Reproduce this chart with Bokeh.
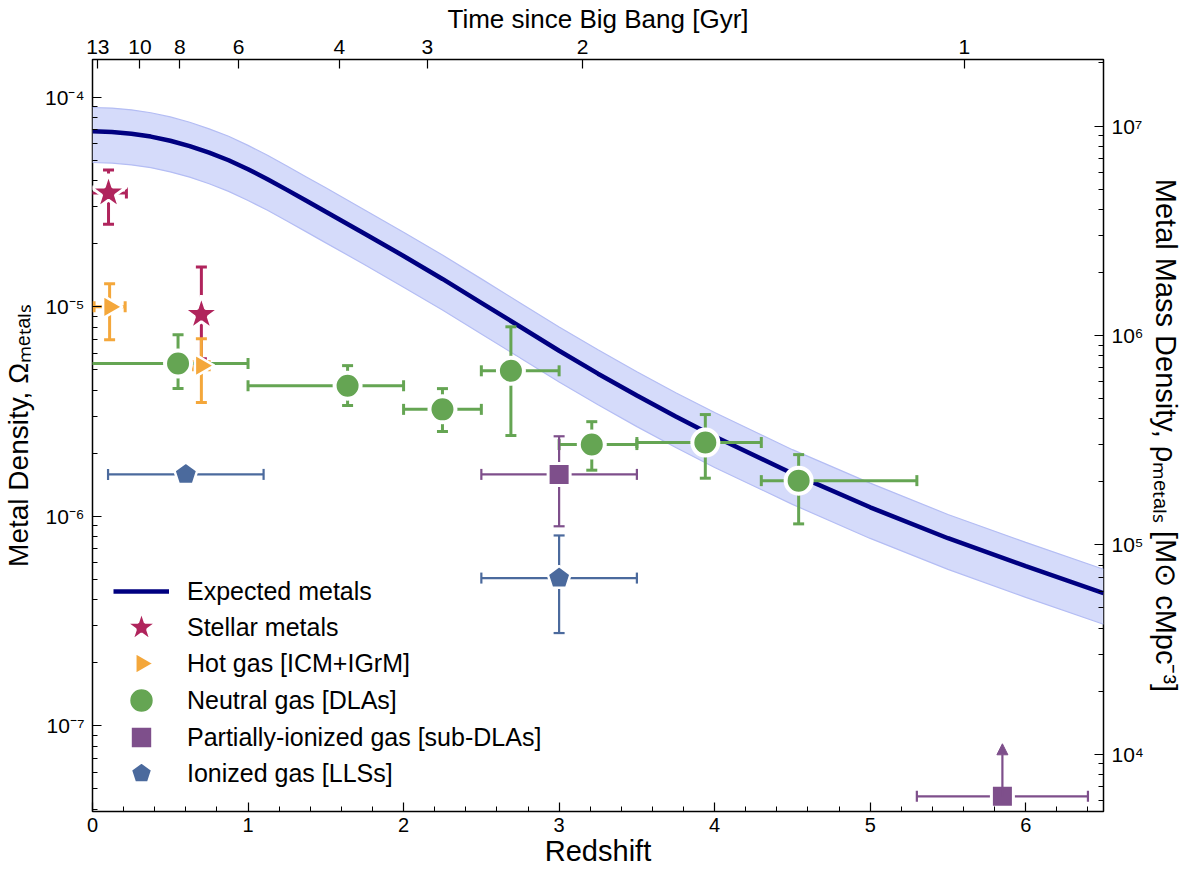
import numpy as np
from bokeh.plotting import figure
from bokeh.models import (Range1d, LogScale, LogAxis, LinearAxis, FixedTicker,
                          SingleIntervalTicker, Legend, LegendItem, Arrow, NormalHead)
from bokeh.embed import file_html
from bokeh.resources import INLINE

# ---------------- data ----------------
z_model = [0.0, 0.125, 0.25, 0.375, 0.5, 0.625, 0.75, 0.875, 1.0, 1.125, 1.25, 1.375,
           1.5, 1.75, 2.0, 2.25, 2.5, 2.75, 3.0, 3.25, 3.5, 3.75, 4.0, 4.5, 5.0, 5.5,
           6.0, 6.5]
omega_model = [6.887e-5, 6.842e-5, 6.709e-5, 6.500e-5, 6.207e-5, 5.855e-5, 5.446e-5,
               5.012e-5, 4.541e-5, 4.069e-5, 3.619e-5, 3.208e-5, 2.843e-5, 2.234e-5,
               1.749e-5, 1.359e-5, 1.045e-5, 8.034e-6, 6.172e-6, 4.797e-6, 3.770e-6,
               2.995e-6, 2.404e-6, 1.602e-6, 1.104e-6, 7.856e-7, 5.778e-7, 4.298e-7]
omega_model_hi = [8.95e-5, 8.89e-5, 8.72e-5, 8.45e-5, 8.07e-5, 7.61e-5, 7.08e-5, 6.52e-5,
                  5.90e-5, 5.29e-5, 4.70e-5, 4.17e-5, 3.70e-5, 2.90e-5, 2.27e-5, 1.77e-5,
                  1.36e-5, 1.044e-5, 8.02e-6, 6.24e-6, 4.90e-6, 3.89e-6, 3.13e-6, 2.08e-6,
                  1.44e-6, 1.02e-6, 7.51e-7, 5.59e-7]
omega_model_lo = [4.89e-5, 4.86e-5, 4.76e-5, 4.62e-5, 4.41e-5, 4.16e-5, 3.87e-5, 3.56e-5,
                  3.22e-5, 2.89e-5, 2.57e-5, 2.28e-5, 2.02e-5, 1.59e-5, 1.24e-5, 9.65e-6,
                  7.42e-6, 5.70e-6, 4.38e-6, 3.41e-6, 2.68e-6, 2.13e-6, 1.71e-6, 1.14e-6,
                  7.84e-7, 5.58e-7, 4.10e-7, 3.05e-7]

star_z = [0.103, 0.70]
star_om = [3.5e-5, 9.2e-6]
star_om_lo = [2.48e-5, 5.65e-6]
star_om_hi = [4.5e-5, 1.55e-5]
star_z_lo = [-0.012, 0.70]
star_z_hi = [0.218, 0.70]

hot_z = [0.11, 0.70]
hot_om = [1.0e-5, 5.24e-6]
hot_om_lo = [6.97e-6, 3.49e-6]
hot_om_hi = [1.29e-5, 7.05e-6]
hot_z_lo = [0.01, 0.65]
hot_z_hi = [0.21, 0.75]

dla_z = [0.55, 1.64, 2.25, 2.69, 3.21, 3.94, 4.54]
dla_om = [5.36e-6, 4.2e-6, 3.24e-6, 4.95e-6, 2.2e-6, 2.25e-6, 1.48e-6]
dla_om_lo = [4.07e-6, 3.38e-6, 2.54e-6, 2.43e-6, 1.66e-6, 1.52e-6, 9.2e-7]
dla_om_hi = [7.36e-6, 5.24e-6, 4.07e-6, 8.03e-6, 2.83e-6, 3.06e-6, 1.97e-6]
dla_z_lo = [-0.05, 1.0, 2.0, 2.5, 3.0, 3.5, 4.3]
dla_z_hi = [1.0, 2.0, 2.5, 3.0, 3.5, 4.3, 5.3]

sub_z = [3.0, 5.85]
sub_om = [1.585e-6, 4.6e-8]
sub_om_lo = [8.96e-7, 4.6e-8]
sub_om_hi = [2.41e-6, 4.6e-8]
sub_z_lo = [2.5, 5.3]
sub_z_hi = [3.5, 6.4]
sub_limit_z = [5.85]
sub_limit_from = [4.6e-8]
sub_limit_to = [8.2e-8]

lls_z = [0.6, 3.0]
lls_om = [1.585e-6, 5.07e-7]
lls_om_lo = [1.585e-6, 2.77e-7]
lls_om_hi = [1.585e-6, 8.1e-7]
lls_z_lo = [0.1, 2.5]
lls_z_hi = [1.1, 3.5]

age_ticks_gyr = [13, 10, 8, 6, 4, 3, 2, 1]
omega_major = [1e-7, 1e-6, 1e-5, 1e-4]
omega_labels = ["10⁻⁷", "10⁻⁶", "10⁻⁵", "10⁻⁴"]
rho_major = [1e4, 1e5, 1e6, 1e7]
rho_labels = ["10⁴", "10⁵", "10⁶", "10⁷"]
rho_per_omega = 1.37e11  # M_sun cMpc^-3 per unit Omega

legend_labels = ["Expected metals", "Stellar metals", "Hot gas [ICM+IGrM]",
                 "Neutral gas [DLAs]", "Partially-ionized gas [sub-DLAs]",
                 "Ionized gas [LLSs]"]

# ---------------- styling ----------------
FONT = "Liberation Sans"
C_STAR = "#b0245c"
C_HOT = "#f4a73b"
C_DLA = "#65a553"
C_SUB = "#7e4f8b"
C_LLS = "#4b6a9d"
C_LINE = "#000080"

YLO, YHI = 3.895e-8, 1.517e-4

p = figure(width=1188, height=873, x_range=Range1d(0, 6.5), y_range=Range1d(YLO, YHI),
           y_axis_type="log", output_backend="svg", toolbar_location=None,
           min_border_left=91, min_border_right=85, min_border_top=57, min_border_bottom=62)
p.grid.visible = False
p.outline_line_color = "black"
p.outline_line_width = 1.5
p.background_fill_color = "white"
p.border_fill_color = "white"


def style_axis(ax, size="21px"):
    ax.axis_line_color = None
    ax.major_tick_in = 9
    ax.major_tick_out = 0
    ax.minor_tick_in = 5
    ax.minor_tick_out = 0
    ax.major_tick_line_color = "black"
    ax.minor_tick_line_color = "black"
    ax.major_tick_line_width = 1.2
    ax.minor_tick_line_width = 1.0
    ax.major_label_text_font = FONT
    ax.major_label_text_font_size = size
    ax.major_label_text_color = "black"
    ax.axis_label_text_font = FONT
    ax.axis_label_text_font_style = "normal"
    ax.axis_label_text_color = "black"
    ax.axis_label_text_font_size = "28px"


# bottom axis
xax = p.xaxis[0]
xax.ticker = SingleIntervalTicker(interval=1, num_minor_ticks=5)
style_axis(xax, "20px")
xax.axis_label = "Redshift"
xax.axis_label_text_font_size = "29px"
xax.major_label_standoff = 6
xax.axis_label_standoff = 0

# left axis
yax = p.yaxis[0]
minor_om = [k * 10.0 ** e for e in range(-8, -3) for k in range(2, 10)
            if YLO <= k * 10.0 ** e <= YHI]
yax.ticker = FixedTicker(ticks=omega_major, minor_ticks=minor_om)
yax.major_label_overrides = dict(zip(omega_major, omega_labels))
style_axis(yax)
yax.major_label_standoff = 8
yax.axis_label = "Metal Density, Ωₘₑₜₐₗₛ"
yax.axis_label_standoff = 8

# right axis (rho)
p.extra_y_ranges = {"rho": Range1d(YLO * rho_per_omega, YHI * rho_per_omega)}
p.extra_y_scales = {"rho": LogScale()}
minor_rho = [k * 10.0 ** e for e in range(3, 8) for k in range(2, 10)
             if YLO * rho_per_omega <= k * 10.0 ** e <= YHI * rho_per_omega]
rax = LogAxis(y_range_name="rho", ticker=FixedTicker(ticks=rho_major, minor_ticks=minor_rho))
rax.major_label_overrides = dict(zip(rho_major, rho_labels))
style_axis(rax)
rax.major_label_standoff = 8
rax.axis_label = "Metal Mass Density, ρₘₑₜₐₗₛ [M⊙ cMpc⁻³]"
rax.axis_label_text_font_size = "29px"
rax.axis_label_standoff = 3
p.add_layout(rax, "right")

# top axis (time since big bang)
H0, Om, OL = 70.0, 0.3, 0.7
tH = 977.8 / H0
age_z = [round(float((np.sqrt(OL / Om) / np.sinh(1.5 * np.sqrt(OL) * t / tH)) ** (2.0 / 3.0) - 1.0), 4)
         for t in age_ticks_gyr]
tax = LinearAxis(ticker=FixedTicker(ticks=age_z, minor_ticks=[]))
tax.major_label_overrides = {zz: str(t) for zz, t in zip(age_z, age_ticks_gyr)}
style_axis(tax)
tax.minor_tick_line_color = None
tax.axis_label = "Time since Big Bang [Gyr]"
tax.axis_label_text_font_size = "26px"
tax.major_label_standoff = 6
tax.axis_label_standoff = 3
p.add_layout(tax, "above")

# ---------------- model band + line ----------------
p.varea(x=z_model, y1=omega_model_lo, y2=omega_model_hi, fill_color="#d5dbfa", fill_alpha=1.0)
p.line(z_model, omega_model_hi, line_color="#b4bdf4", line_width=1.2)
p.line(z_model, omega_model_lo, line_color="#b4bdf4", line_width=1.2)
r_line = p.line(z_model, omega_model, line_color=C_LINE, line_width=4.5)


def errbars(z, om, zlo, zhi, olo, ohi, color, lw, cap):
    hx = [(a, b, c) for a, b, c in zip(zlo, zhi, om) if b > a]
    if hx:
        p.segment(x0=[h[0] for h in hx], x1=[h[1] for h in hx], y0=[h[2] for h in hx],
                  y1=[h[2] for h in hx], line_color=color, line_width=lw)
        p.scatter(x=[h[0] for h in hx] + [h[1] for h in hx], y=[h[2] for h in hx] * 2,
                  marker="dash", angle=np.pi / 2, size=cap, line_color=color, line_width=lw)
    vy = [(a, b, c) for a, b, c in zip(olo, ohi, z) if b > a]
    if vy:
        p.segment(x0=[v[2] for v in vy], x1=[v[2] for v in vy], y0=[v[0] for v in vy],
                  y1=[v[1] for v in vy], line_color=color, line_width=lw)
        p.scatter(x=[v[2] for v in vy] * 2, y=[v[0] for v in vy] + [v[1] for v in vy],
                  marker="dash", size=cap, line_color=color, line_width=lw)


errbars(star_z, star_om, star_z_lo, star_z_hi, star_om_lo, star_om_hi, C_STAR, 3, 11)
errbars(hot_z, hot_om, hot_z_lo, hot_z_hi, hot_om_lo, hot_om_hi, C_HOT, 3, 11)
errbars(dla_z, dla_om, dla_z_lo, dla_z_hi, dla_om_lo, dla_om_hi, C_DLA, 3, 11)
errbars(sub_z, sub_om, sub_z_lo, sub_z_hi, sub_om_lo, sub_om_hi, C_SUB, 2.2, 11)
errbars(lls_z, lls_om, lls_z_lo, lls_z_hi, lls_om_lo, lls_om_hi, C_LLS, 2.2, 11)

p.add_layout(Arrow(end=NormalHead(size=11, fill_color=C_SUB, line_color=C_SUB),
                   x_start=sub_limit_z[0], y_start=sub_limit_from[0],
                   x_end=sub_limit_z[0], y_end=sub_limit_to[0],
                   line_color=C_SUB, line_width=2.2))

r_star = p.scatter(star_z, star_om, marker="star", size=38, fill_color=C_STAR,
                   line_color="white", line_width=3)
r_dla = p.scatter(dla_z, dla_om, size=26, fill_color=C_DLA, line_color="white", line_width=4)
r_sub = p.scatter(sub_z, sub_om, marker="square", size=22, fill_color=C_SUB,
                  line_color="white", line_width=3)
HAS_NGON = hasattr(p, "ngon")
if HAS_NGON:
    r_hot = p.ngon(x=hot_z, y=hot_om, radius=13, radius_units="screen", n=3,
                   angle=-np.pi / 2, fill_color=C_HOT, line_color="white", line_width=2.5)
    r_lls = p.ngon(x=lls_z, y=lls_om, radius=12, radius_units="screen", n=5,
                   angle=0, fill_color=C_LLS, line_color="white", line_width=2.5)
else:
    r_hot = p.scatter(hot_z, hot_om, marker="triangle", angle=-np.pi / 2, size=25,
                      fill_color=C_HOT, line_color="white", line_width=3)
    r_lls = p.scatter(lls_z, lls_om, marker="hex", size=22, fill_color=C_LLS,
                      line_color="white", line_width=3)

# ---------------- legend: one box per row so each glyph gets its own size ----------------
FRAME_H = 873 - 57 - 62
row_centers = [534, 570, 606, 643, 680, 716]   # px below frame top
glyph_boxes = [(56, 30), (84, 84), (62, 62), (66, 66), (56, 56), (56, 56)]
renderers = [r_line, r_star, r_hot, r_dla, r_sub, r_lls]
GLYPH_CX = 49      # glyph centre, px right of the frame's left edge
LABEL_X = 95       # label start, px right of the frame's left edge
for lbl, rend, (gw, gh), cy in zip(legend_labels, renderers, glyph_boxes, row_centers):
    lg = Legend(items=[LegendItem(label=lbl, renderers=[rend])],
                location=(GLYPH_CX - gw // 2, FRAME_H - cy - gh // 2))
    lg.border_line_color = None
    lg.background_fill_alpha = 0
    lg.label_text_font = FONT
    lg.label_text_font_size = "25px"
    lg.label_text_color = "black"
    lg.glyph_width = gw
    lg.glyph_height = gh
    lg.label_height = gh
    lg.padding = 0
    lg.margin = 0
    lg.spacing = 0
    lg.label_standoff = LABEL_X - (GLYPH_CX - gw // 2 + gw)
    p.add_layout(lg, "center")

open("out.html", "w").write(file_html(p, INLINE))
